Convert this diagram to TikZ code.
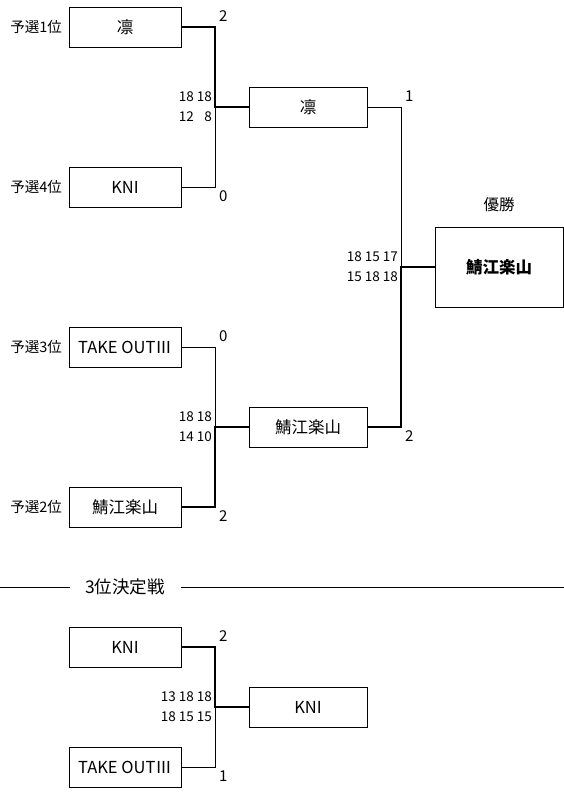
\documentclass[tikz,border=0pt]{standalone}
\usepackage{fontspec}
\setmainfont{Noto Sans CJK JP}
\begin{document}
\begin{tikzpicture}[x=1pt,y=-1pt,
  team/.style={draw,line width=0.8pt,minimum width=112pt,minimum height=40pt,inner sep=0pt,font=\fontsize{16.5}{19}\selectfont},
  seed/.style={anchor=east,inner sep=0pt,font=\fontsize{14.5}{17}\selectfont},
  score/.style={anchor=east,inner sep=0pt,font=\fontsize{13.5}{16}\selectfont},
  setw/.style={anchor=west,inner sep=0pt,font=\fontsize{15}{17}\selectfont},
  win/.style={line width=2.6pt},
  lose/.style={line width=0.8pt}]
\useasboundingbox (0,0) rectangle (564,803);
% round 1
\node[team] (t1) at (125,27) {凛};
\node[team] (t4) at (125,187) {KNI};
\node[team] (t3) at (125,347) {TAKE OUTⅢ};
\node[team] (t2) at (125,507) {鯖江楽山};
\node[seed] (s1) at (62,27) {予選1位};
\node[seed] (s4) at (62,187) {予選4位};
\node[seed] (s3) at (62,347) {予選3位};
\node[seed] (s2) at (62,507) {予選2位};
% round 2
\node[team,minimum width=118pt] (w1) at (308,107) {凛};
\node[team,minimum width=118pt] (w2) at (308,427) {鯖江楽山};
% final
\node[team,minimum width=128pt,minimum height=80pt,font=\fontsize{16.5}{19}\selectfont\bfseries] (ch) at (499,267) {鯖江楽山};
\node[inner sep=0pt,font=\fontsize{15.5}{17}\selectfont] (yl) at (499,205) {優勝};
% junctions
\coordinate (j1) at (215,107);
\coordinate (j2) at (215,427);
\coordinate (jf) at (401,267);
\coordinate (j3) at (215,707);
% bracket lines
\draw[win] (t1.east) -| (j1) -- (w1.west);
\draw[lose] (t4.east) -| (j1);
\draw[lose] (t3.east) -| (j2);
\draw[win] (t2.east) -| (j2) -- (w2.west);
\draw[lose] (w1.east) -| (jf);
\draw[win] (w2.east) -| (jf) -- (ch.west);
% set counts
\node[setw] (c1) at (219,16) {2};
\node[setw] (c4) at (219,196) {0};
\node[setw] (c3) at (219,336) {0};
\node[setw] (c2) at (219,516) {2};
\node[setw] (cw1) at (405,96) {1};
\node[setw] (cw2) at (405,436) {2};
% scores
\node[score] (sa1) at (212,97) {18 18};
\node[score] (sa2) at (212,117) {12 \phantom{1}8};
\node[score] (sb1) at (212,417) {18 18};
\node[score] (sb2) at (212,437) {14 10};
\node[score] (sf1) at (398,257) {18 15 17};
\node[score] (sf2) at (398,277) {15 18 18};
% third place
\node[inner sep=0pt,font=\fontsize{17.5}{20}\selectfont] (tp) at (125,587) {3位決定戦};
\coordinate (la) at (0,587);
\coordinate (lb) at (70,587);
\coordinate (lc) at (181,587);
\coordinate (ld) at (564,587);
\draw[lose] (la) -- (lb);
\draw[lose] (lc) -- (ld);
\node[team] (u1) at (125,647) {KNI};
\node[team] (u2) at (125,767) {TAKE OUTⅢ};
\node[team,minimum width=118pt] (u3) at (308,707) {KNI};
\draw[win] (u1.east) -| (j3) -- (u3.west);
\draw[lose] (u2.east) -| (j3);
\node[setw] (cu1) at (219,636) {2};
\node[setw] (cu2) at (219,776) {1};
\node[score] (su1) at (212,697) {13 18 18};
\node[score] (su2) at (212,717) {18 15 15};
\end{tikzpicture}
\end{document}
